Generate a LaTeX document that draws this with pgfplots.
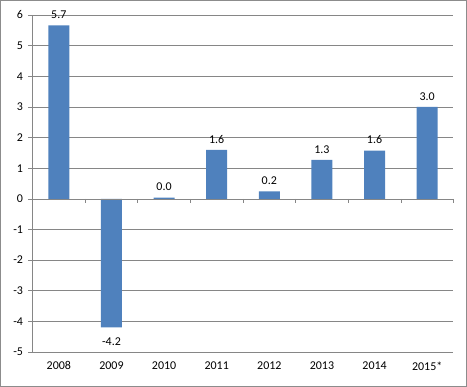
\documentclass[border=0pt]{standalone}
\usepackage{pgfplots}
\pgfplotsset{compat=1.18}
\usepackage{fontspec}
\setmainfont{Carlito}
\definecolor{barblue}{HTML}{4F81BD}
\definecolor{gridgray}{HTML}{868686}
\definecolor{bordergray}{HTML}{8C8C8C}
\begin{document}
\begin{tikzpicture}
\path[use as bounding box] (-32.5bp,-35bp) rectangle (434.5bp,352bp);
\draw[bordergray, line width=0.8bp] (-32bp,-34.5bp) rectangle (434bp,351.5bp);
\begin{axis}[
  at={(0,0)}, anchor=south west,
  scale only axis, width=421bp, height=337bp,
  xmin=-0.5, xmax=7.5, ymin=-5, ymax=6,
  ytick={-5,-4,-3,-2,-1,0,1,2,3,4,5,6},
  xtick={0,1,2,3,4,5,6,7},
  xticklabels={2008,2009,2010,2011,2012,2013,2014,2015*},
  axis lines*=left,
  axis line style={gridgray, line width=0.6bp},
  ymajorgrids, grid style={gridgray, line width=0.6bp},
  x tick style={draw=none},
  y tick style={gridgray, line width=0.6bp},
  tick align=outside,
  major tick length=4bp,
  tick label style={font=\fontsize{12}{14}\selectfont},
  yticklabel style={xshift=-2bp},
  xticklabel style={yshift=-2bp},
  /pgf/number format/assume math mode=true,
  ybar, bar width=21bp,
  visualization depends on={rawy \as \rawy},
  nodes near coords={\pgfmathprintnumber[fixed,fixed zerofill,precision=1,assume math mode=true]{\pgfplotspointmeta}},
  nodes near coords style={font=\fontsize{12}{14}\selectfont, inner sep=6.5bp,
    yshift={ifthenelse(\rawy<0,-4,0)*1bp}},
  clip=false,
]
\addplot[fill=barblue, draw=none] coordinates {
  (0,5.66) (1,-4.2) (2,0.04) (3,1.6) (4,0.24) (5,1.27) (6,1.57) (7,3.0)
};
\draw[gridgray, line width=0.6bp] (axis cs:-0.5,0) -- (axis cs:7.5,0);
\pgfplotsinvokeforeach{-0.5,0.5,1.5,2.5,3.5,4.5,5.5,6.5,7.5}{
  \draw[gridgray, line width=0.6bp] (axis cs:#1,0) -- (axis cs:#1,-0.13);
}
\end{axis}
\end{tikzpicture}
\end{document}
